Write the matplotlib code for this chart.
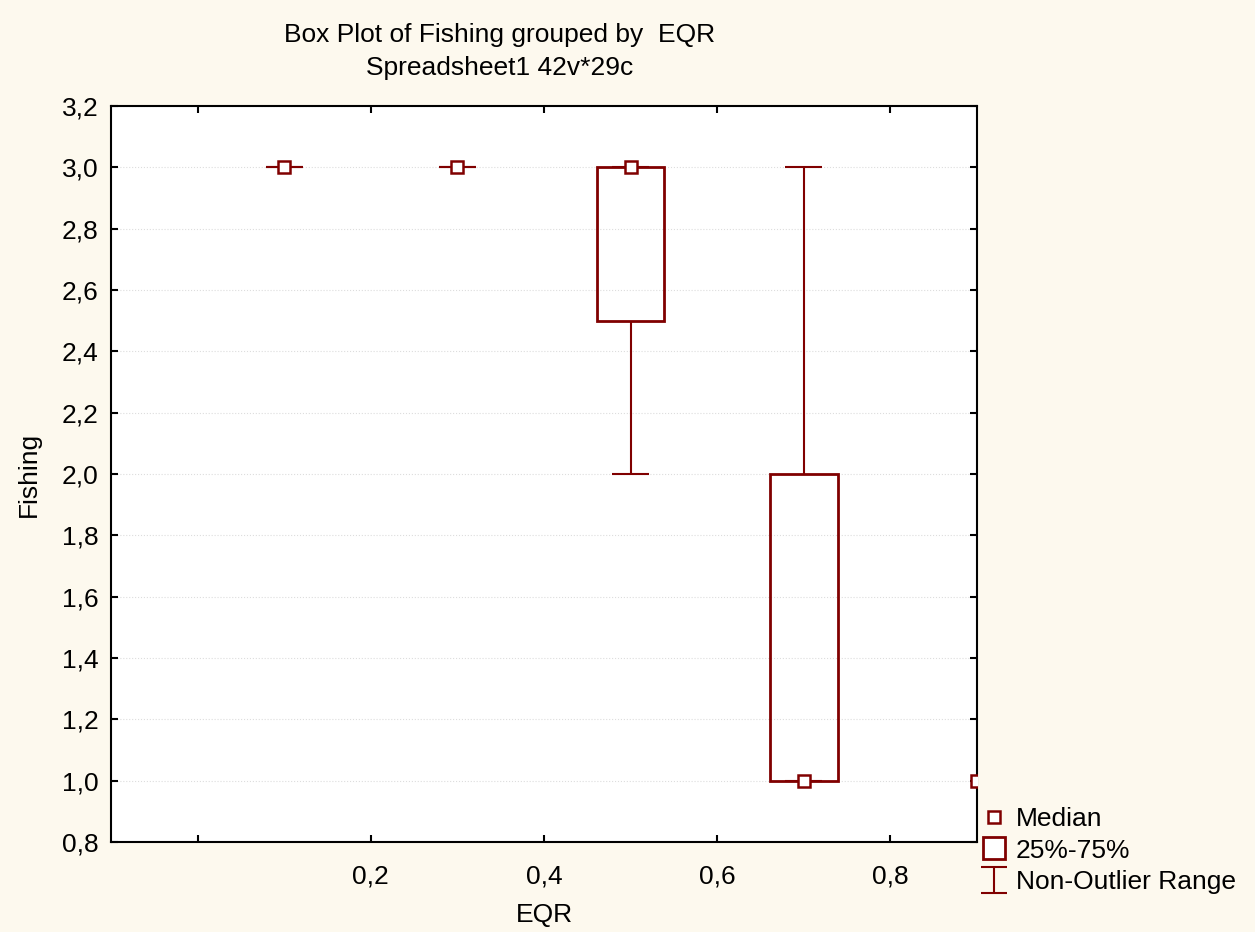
import matplotlib
matplotlib.use('Agg')
import matplotlib.pyplot as plt
from matplotlib.patches import Rectangle
from matplotlib.lines import Line2D
from matplotlib.path import Path
from matplotlib.ticker import FuncFormatter

plt.rcParams['font.family'] = ['Liberation Sans', 'DejaVu Sans']

# Fishing summary per EQR class
eqr = [0.1, 0.3, 0.5, 0.7, 0.9]
medianas = [3.0, 3.0, 3.0, 1.0, 1.0]
q25 = [3.0, 3.0, 2.5, 1.0, 1.0]
q75 = [3.0, 3.0, 3.0, 2.0, 1.0]
min_no_outlier = [3.0, 3.0, 2.0, 1.0, None]
max_no_outlier = [3.0, 3.0, 3.0, 3.0, None]

rojo = '#800000'
fondo = '#fdf9ee'
ancho_caja = 0.078
ancho_bigote = 0.043
fs = 19

fig = plt.figure(figsize=(12.55, 9.32), dpi=100, facecolor=fondo)
ax = fig.add_axes([0.0884, 0.0966, 0.6901, 0.7897])
ax.set_facecolor('white')

for x, med, a, b, lo, hi in zip(eqr, medianas, q25, q75, min_no_outlier, max_no_outlier):
    # bigotes
    if lo is not None:
        ax.vlines(x, lo, a, color=rojo, lw=1.5, zorder=2)
        ax.vlines(x, b, hi, color=rojo, lw=1.5, zorder=2)
        ax.hlines([lo, hi], x - ancho_bigote / 2, x + ancho_bigote / 2, color=rojo, lw=1.5, zorder=2)
    # caja 25%-75%
    if b > a:
        ax.add_patch(Rectangle((x - ancho_caja / 2, a), ancho_caja, b - a,
                               fill=False, edgecolor=rojo, lw=2, zorder=3))
    # mediana
    ax.plot(x, med, 's', ms=9, mfc='white', mec=rojo, mew=1.8, zorder=4)

ax.set_xlim(-0.1, 0.9)
ax.set_ylim(0.8, 3.2)
ax.set_xticks([0.0, 0.2, 0.4, 0.6, 0.8])
ax.set_yticks([0.8, 1.0, 1.2, 1.4, 1.6, 1.8, 2.0, 2.2, 2.4, 2.6, 2.8, 3.0, 3.2])
ax.xaxis.set_major_formatter(FuncFormatter(lambda v, p: '' if abs(v) < 1e-9 else f'{v:.1f}'.replace('.', ',')))
ax.yaxis.set_major_formatter(FuncFormatter(lambda v, p: f'{v:.1f}'.replace('.', ',')))
ax.tick_params(direction='in', length=5, width=1.5, labelsize=fs, pad=16,
               top=True, right=True, colors='black')
ax.tick_params(axis='y', pad=9)
ax.yaxis.grid(True, linestyle=':', color='#dddddd', lw=0.8)
ax.set_axisbelow(True)
for s in ax.spines.values():
    s.set_linewidth(1.5)

ax.set_xlabel('EQR', fontsize=fs, labelpad=11)
ax.set_ylabel('Fishing', fontsize=fs, labelpad=15)

fig.text(500 / 1255, 1 - 35 / 932, 'Box Plot of Fishing grouped by  EQR', ha='center', va='center', fontsize=fs)
fig.text(500 / 1255, 1 - 68 / 932, 'Spreadsheet1 42v*29c', ha='center', va='center', fontsize=fs)

# leyenda
i_beam = Path([(-1, 1), (1, 1), (0, 1), (0, -1), (-1, -1), (1, -1)],
              [Path.MOVETO, Path.LINETO, Path.MOVETO, Path.LINETO, Path.MOVETO, Path.LINETO])
handles = [
    Line2D([], [], ls='none', marker='s', ms=9, mfc='white', mec=rojo, mew=1.8),
    Line2D([], [], ls='none', marker='s', ms=16, mfc='white', mec=rojo, mew=2),
    Line2D([], [], ls='none', marker=i_beam, ms=19, mec=rojo, mew=1.5),
]
fig.legend(handles, ['Median', '25%-75%', 'Non-Outlier Range'], loc='upper left',
           bbox_to_anchor=(968 / 1255, 1 - 794 / 932), frameon=False, fontsize=fs,
           handlelength=1.0, handletextpad=0.3, labelspacing=0.28, borderpad=0)

fig.savefig('out.png', dpi=100, facecolor=fondo)
